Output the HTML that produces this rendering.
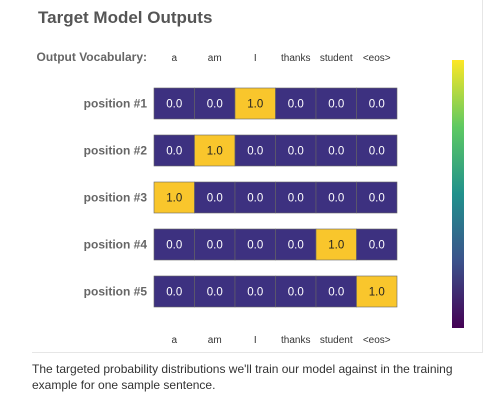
<!DOCTYPE html>
<html><head><meta charset="utf-8"><style>
body{margin:0;width:500px;height:413px;background:#fff;font-family:"Liberation Sans",sans-serif;overflow:hidden;position:relative}
.t{position:absolute;white-space:nowrap}
</style></head><body>
<div style="position:absolute;left:32px;top:0;width:450px;height:352px;border-right:1px solid #e6e6e6;border-bottom:1px solid #e6e6e6"></div>
<div class="t" style="left:38px;top:8px;font-size:17px;font-weight:bold;color:#555">Target Model Outputs</div>
<svg id="chart" width="500" height="413" style="position:absolute;left:0;top:0">
<defs><linearGradient id="vir" x1="0" y1="1" x2="0" y2="0">
<stop offset="0" stop-color="#440154"/><stop offset="0.25" stop-color="#3b528b"/><stop offset="0.5" stop-color="#21918c"/><stop offset="0.75" stop-color="#5ec962"/><stop offset="1" stop-color="#fde725"/></linearGradient></defs>
<rect x="452" y="60" width="12" height="268" fill="url(#vir)"/>
</svg>
<div class="t" style="left:32px;top:361px;font-size:12px;line-height:16px;color:#333">The targeted probability distributions we'll train our model against in the training<br>example for one sample sentence.</div>
<script>
const vocab=["a","am","I","thanks","student","<eos>"];
const positions=["position #1","position #2","position #3","position #4","position #5"];
const values=[[0,0,1,0,0,0],[0,1,0,0,0,0],[1,0,0,0,0,0],[0,0,0,0,1,0],[0,0,0,0,0,1]];
const svg=document.getElementById('chart');const NS="http://www.w3.org/2000/svg";
const x0=154,cw=40.5,y0=88,ch=31,pitch=47;
function xs(i){return x0+i*cw;}function ys(j){return y0+j*pitch;}
function col(v){return v>0.5?"#f9c62c":"#3d3180";}
function txt(x,y,s,size,fill,anchor,weight,name){const t=document.createElementNS(NS,'text');t.setAttribute('x',x);t.setAttribute('y',y);t.setAttribute('font-size',size);t.setAttribute('fill',fill);t.setAttribute('text-anchor',anchor);t.setAttribute('font-family','Liberation Sans, sans-serif');if(weight)t.setAttribute('font-weight',weight);t.textContent=s;


svg.appendChild(t);}
txt(147,61,"Output Vocabulary:",12,"#666","end","bold","vocab-header-label");
vocab.forEach((w,i)=>{txt(xs(i)+cw/2,61,w,10,"#333","middle",null,"top-vocab-label");txt(xs(i)+cw/2,343,w,10,"#333","middle",null,"bottom-vocab-label");});
positions.forEach((p,j)=>{txt(147,ys(j)+ch/2+4,p,12,"#666","end","bold","row-label");
values[j].forEach((v,i)=>{const r=document.createElementNS(NS,'rect');r.setAttribute('x',xs(i));r.setAttribute('y',ys(j));r.setAttribute('width',cw);r.setAttribute('height',ch);r.setAttribute('fill',col(v));r.setAttribute('stroke','#666');r.setAttribute('stroke-width','0.6');


svg.appendChild(r);
txt(xs(i)+cw/2,ys(j)+ch/2+4,v.toFixed(1),11.5,v>0.5?"#222":"#fff","middle",null,"cell-value");});});
</script>
</body></html>
